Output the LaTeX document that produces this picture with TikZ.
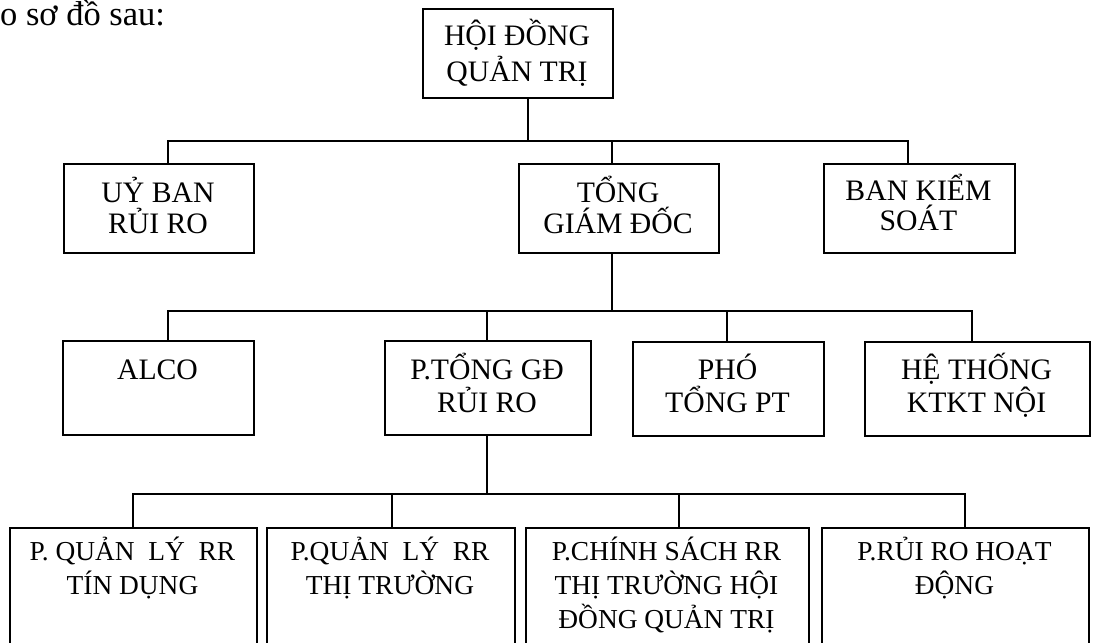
\documentclass[tikz,border=0pt]{standalone}
\usepackage{fontspec}
\setmainfont{Liberation Serif}
\newcommand\fl{\rule{0pt}{32pt}}
\begin{document}
\begin{tikzpicture}[x=1pt,y=-1pt,
  box/.style={draw, line width=1.5pt, inner sep=0pt, anchor=north west},
  conn/.style={line width=1.3pt},
  txt/.style={align=center, inner sep=0pt, anchor=north, font=\fontsize{29.7}{33}\selectfont},
  stxt/.style={align=center, inner sep=0pt, anchor=north, font=\fontsize{27.4}{34}\selectfont}]
\useasboundingbox (0,0) rectangle (1096,643);
\clip (0,0) rectangle (1096,643);

% caption
\node[anchor=base west, inner sep=0pt, font=\fontsize{34.5}{40}\selectfont] (cap) at (0,25) {o sơ đồ sau:};

% boxes
\node[box, minimum width=190pt, minimum height=89pt] (hdqt) at (422,8) {};
\node[box, minimum width=190pt, minimum height=89pt] (uyban) at (63,163) {};
\node[box, minimum width=200pt, minimum height=89pt] (tgd) at (518,163) {};
\node[box, minimum width=191pt, minimum height=89pt] (bks) at (823,163) {};

\node[box, minimum width=191pt, minimum height=94pt] (alco) at (62,340) {};
\node[box, minimum width=206pt, minimum height=94pt] (ptgd) at (384,340) {};
\node[box, minimum width=191pt, minimum height=94pt] (pho) at (632,341) {};
\node[box, minimum width=225pt, minimum height=94pt] (ktkt) at (864,341) {};

\node[box, minimum width=247pt, minimum height=160pt] (qltd) at (9,527) {};
\node[box, minimum width=248pt, minimum height=160pt] (qltt) at (266,527) {};
\node[box, minimum width=283pt, minimum height=160pt] (csrr) at (525,527) {};
\node[box, minimum width=267pt, minimum height=160pt] (rrhd) at (821,527) {};

% texts
\node[txt] (t1) at (517,13) {\fl HỘI ĐỒNG\\[3.7pt]QUẢN TRỊ};
\node[txt] (t2) at (158,170) {\fl UỶ BAN\\[-2pt]RỦI RO};
\node[txt] (t3) at (618,170) {\fl TỔNG\\[-2pt]GIÁM ĐỐC};
\node[txt] (t4) at (918.5,168) {\fl BAN KIỂM\\[-3pt]SOÁT};

\node[txt] (t5) at (157.5,347) {\fl ALCO};
\node[txt] (t6) at (487,347) {\fl P.TỔNG GĐ\\[0pt]RỦI RO};
\node[txt] (t7) at (727.5,347) {\fl PHÓ\\[0pt]TỔNG PT};
\node[txt] (t8) at (976.5,347) {\fl HỆ THỐNG\\[0pt]KTKT NỘI};

\node[stxt] (t9) at (132.5,528) {\fl P. QUẢN\ \ LÝ\ \ RR\\TÍN DỤNG};
\node[stxt] (t10) at (390,528) {\fl P.QUẢN\ \ LÝ\ \ RR\\THỊ TRƯỜNG};
\node[stxt] (t11) at (666.5,528) {\fl P.CHÍNH SÁCH RR\\THỊ TRƯỜNG HỘI\\ĐỒNG QUẢN TRỊ};
\node[stxt] (t12) at (954.5,528) {\fl P.RỦI RO HOẠT\\ĐỘNG};

% bus coordinates
\coordinate (j1) at (528,141);
\coordinate (j2) at (612,311);
\coordinate (j3) at (487,494);
\coordinate (xa) at (168,0);
\coordinate (xb) at (908,0);
\coordinate (xc) at (727,0);
\coordinate (xd) at (972,0);
\coordinate (xe) at (133,0);
\coordinate (xf) at (392,0);
\coordinate (xg) at (679,0);
\coordinate (xh) at (965,0);

% level 1
\draw[conn] (hdqt.south -| j1) -- (j1);
\draw[conn] (uyban.north -| xa) -- (j1 -| xa) -- (j1 -| xb) -- (bks.north -| xb);
\draw[conn] (tgd.north -| j2) -- (j1 -| j2);

% level 2
\draw[conn] (tgd.south -| j2) -- (j2);
\draw[conn] (alco.north -| xa) -- (j2 -| xa) -- (j2 -| xd) -- (ktkt.north -| xd);
\draw[conn] (ptgd.north -| j3) -- (j2 -| j3);
\draw[conn] (pho.north -| xc) -- (j2 -| xc);

% level 3
\draw[conn] (ptgd.south -| j3) -- (j3);
\draw[conn] (qltd.north -| xe) -- (j3 -| xe) -- (j3 -| xh) -- (rrhd.north -| xh);
\draw[conn] (qltt.north -| xf) -- (j3 -| xf);
\draw[conn] (csrr.north -| xg) -- (j3 -| xg);
\end{tikzpicture}
\end{document}
